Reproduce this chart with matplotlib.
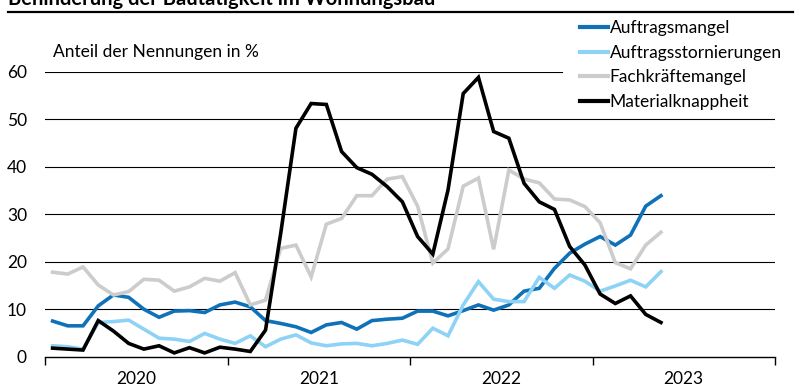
import matplotlib
matplotlib.use("Agg")
import matplotlib.pyplot as plt
import numpy as np
from matplotlib.lines import Line2D

# ── Data (monthly, Jan 2020 .. May 2023) ───────────────────────────────

YEARS = ["2020", "2021", "2022", "2023"]

AUFTRAGSMANGEL = [
    7.5, 6.5, 6.5, 10.7, 13.0, 12.5, 10.0, 8.3, 9.6, 9.7, 9.3, 10.9,
    11.5, 10.5, 7.6, 7.0, 6.3, 5.1, 6.7, 7.2, 5.8, 7.6, 7.9, 8.1,
    9.6, 9.6, 8.6, 9.7, 10.9, 9.8, 10.9, 13.8, 14.4, 18.6, 21.8, 23.7,
    25.3, 23.5, 25.6, 31.7, 33.9,
]
STORNIERUNGEN = [
    2.3, 2.1, 1.6, 7.2, 7.4, 7.7, 5.8, 3.9, 3.7, 3.2, 4.9, 3.7,
    2.8, 4.4, 2.1, 3.7, 4.6, 2.9, 2.3, 2.7, 2.8, 2.3, 2.8, 3.5,
    2.6, 6.0, 4.4, 10.9, 15.8, 12.1, 11.6, 11.6, 16.7, 14.4, 17.2, 15.9,
    13.8, 14.9, 16.1, 14.7, 17.9,
]
FACHKRAEFTE = [
    17.8, 17.4, 18.9, 15.1, 13.0, 13.7, 16.3, 16.1, 13.8, 14.7, 16.5, 15.9,
    17.7, 10.9, 11.9, 22.8, 23.5, 16.8, 27.9, 29.1, 33.9, 33.9, 37.4, 37.9,
    31.7, 19.7, 22.7, 35.9, 37.6, 22.6, 39.3, 37.4, 36.6, 33.2, 33.0, 31.6,
    28.2, 19.8, 18.5, 23.5, 26.2,
]
MATERIAL = [
    1.8, 1.6, 1.4, 7.6, 5.4, 2.8, 1.6, 2.3, 0.8, 1.9, 0.8, 2.0,
    1.6, 1.1, 5.6, 26.0, 48.1, 53.3, 53.1, 43.2, 39.8, 38.4, 35.8, 32.6,
    25.3, 21.6, 35.1, 55.4, 58.8, 47.4, 46.0, 36.5, 32.6, 31.0, 23.2, 19.3,
    13.2, 11.2, 12.8, 8.9, 7.2,
]

SERIES = [
    ("Auftragsmangel", AUFTRAGSMANGEL, "#0f72b8"),
    ("Auftragsstornierungen", STORNIERUNGEN, "#8ed3f6"),
    ("Fachkräftemangel", FACHKRAEFTE, "#cccccc"),
    ("Materialknappheit", MATERIAL, "#000000"),
]

FONT = "Lato"
FS = 12.5
W, H = 795, 389


def main() -> None:
    plt.rcParams["font.family"] = FONT
    fig = plt.figure(figsize=(W / 100, H / 100), dpi=100)
    fig.patch.set_facecolor("white")

    left, right = 45 / W, 775 / W
    bottom, top = 1 - 356.7 / H, 1 - 71.7 / H
    ax = fig.add_axes([left, bottom, right - left, top - bottom])

    x = np.arange(len(MATERIAL)) + 0.5
    for label, vals, color in SERIES:
        ax.plot(x, vals, color=color, linewidth=2.6, label=label, zorder=3,
                solid_joinstyle="miter")

    ax.set_xlim(0, 12 * len(YEARS))
    ax.set_ylim(0, 60)
    ax.set_yticks(np.arange(0, 61, 10))
    ax.tick_params(axis="y", length=0, labelsize=FS, pad=13)

    ax.set_xticks(np.arange(0, 12 * len(YEARS) + 1, 12))
    ax.set_xticklabels([])
    ax.set_xticks(np.arange(6, 12 * len(YEARS), 12), minor=True)
    ax.set_xticklabels(YEARS, minor=True)
    ax.tick_params(axis="x", which="major", length=6, width=1, color="black")
    ax.tick_params(axis="x", which="minor", length=0, labelsize=FS, pad=10)

    # gridlines; the top one stops where the legend begins
    for v in range(10, 61, 10):
        xmax = (562 - 45) / 730 if v == 60 else 1.0
        ax.axhline(v, xmax=xmax, color="black", linewidth=0.8, zorder=1)

    for s in ("top", "right", "left"):
        ax.spines[s].set_visible(False)
    ax.spines["bottom"].set_linewidth(1.0)

    fig.text(53 / W, 1 - 52 / H, "Anteil der Nennungen in %",
             fontsize=FS, ha="left", va="center")

    handles = [Line2D([0], [0], color=c, linewidth=3) for _, _, c in SERIES]
    ax.legend(handles, [s[0] for s in SERIES], loc="upper left",
              bbox_to_anchor=(580 / W, 1 - 20 / H), bbox_transform=fig.transFigure,
              frameon=False, fontsize=FS, handlelength=1.6,
              handletextpad=0.1, labelspacing=0.5, borderpad=0,
              borderaxespad=0)

    # title (cut off at the top, as in the source) and rule beneath it
    fig.text(8 / W, 1 - 5 / H, "Behinderung der Bautätigkeit im Wohnungsbau",
             fontsize=14.5, fontweight="bold", ha="left", va="baseline")
    fig.add_artist(Line2D([8 / W, 793 / W], [1 - 11.7 / H, 1 - 11.7 / H],
                          transform=fig.transFigure, color="black", linewidth=1.6))

    fig.savefig("out.png", dpi=100)
    plt.close(fig)


if __name__ == "__main__":
    main()
